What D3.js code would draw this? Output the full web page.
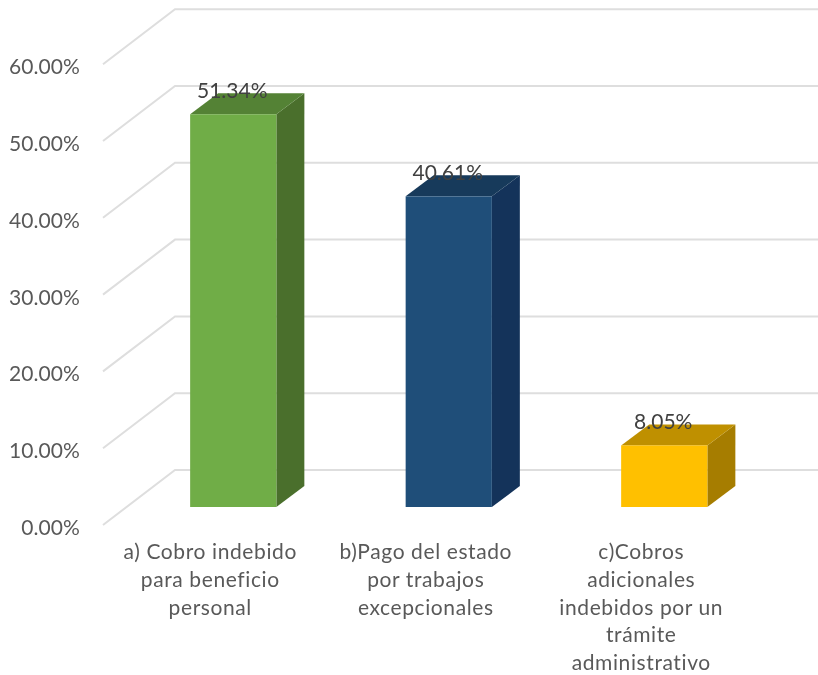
<!DOCTYPE html>
<html>
<head>
<meta charset="utf-8">
<script src="https://cdn.jsdelivr.net/npm/d3@7"></script>
<style>
  html, body { margin: 0; padding: 0; background: #fff; }
  text { font-family: Lato, "Open Sans", sans-serif; }
</style>
</head>
<body>
<svg id="chart"></svg>
<script>
const categories = [
  ["a) Cobro indebido", "para beneficio", "personal"],
  ["b)Pago del estado", "por trabajos", "excepcionales"],
  ["c)Cobros", "adicionales", "indebidos por un", "trámite", "administrativo"],
];
const values = [51.34, 40.61, 8.05];
const valueLabels = ["51.34%", "40.61%", "8.05%"];
const yTicks = [0, 10, 20, 30, 40, 50, 60];

const FRONT_COLORS = ["#70ad47", "#1f4e79", "#ffc000"];
const TOP_COLORS = ["#548235", "#173a5b", "#bf9000"];
const SIDE_COLORS = ["#4a6f2c", "#14335a", "#a67d00"];

const TOTAL_WIDTH = 818;
const TOTAL_HEIGHT = 675;

// depth of the 3d box, and of the floor
const BAR_DX = 28;
const BAR_DY = -21;
const FLOOR_DX = 72;
const FLOOR_DY = -55;

const WALL_LEFT = 175;
const WALL_RIGHT = 818;
const FLOOR_FRONT_Y = 525;
const BAR_FRONT_Y = 507;

const yScale = d3.scaleLinear().domain([0, 60]).range([FLOOR_FRONT_Y, FLOOR_FRONT_Y - 60 * 7.68]);
const barY = d3.scaleLinear().domain([0, 60]).range([BAR_FRONT_Y, BAR_FRONT_Y - 60 * 7.65]);
const xScale = d3.scaleBand().domain(d3.range(categories.length)).range([125.5, 772]).paddingInner(0.6).paddingOuter(0.3);

const svg = d3.select("#chart")
  .attr("width", TOTAL_WIDTH)
  .attr("height", TOTAL_HEIGHT)
  .style("display", "block")
  .style("filter", "blur(0.4px)");

// gridlines: floor/side edge then back wall
svg.append("g")
  .selectAll("polyline")
  .data(yTicks)
  .join("polyline")
  .attr("fill", "none")
  .attr("stroke", "#dedede")
  .attr("stroke-width", 2)
  .attr("points", (d) => {
    const y = yScale(d);
    return `${WALL_LEFT - FLOOR_DX},${y} ${WALL_LEFT},${y + FLOOR_DY} ${WALL_RIGHT},${y + FLOOR_DY}`;
  });

const yAxis = d3.axisLeft(yScale).tickValues(yTicks).tickSize(0).tickPadding(0).tickFormat((d) => d3.format(".2f")(d) + "%");
const yG = svg.append("g").attr("transform", "translate(80,2)").call(yAxis);
yG.select(".domain").remove();
yG.attr("font-family", null).attr("font-size", null);
yG.selectAll("text")
  .style("font-size", "21px")
  .style("letter-spacing", "0.1px")
  .attr("dy", "0.36em")
  .attr("fill", "#595959");

const bars = svg.append("g").selectAll("g").data(values).join("g");

// side face
bars.append("path")
  .attr("fill", (d, i) => SIDE_COLORS[i])
  .attr("d", (d, i) => {
    const x = xScale(i) + xScale.bandwidth();
    const y0 = barY(0);
    const y1 = barY(d);
    return `M${x},${y0}L${x + BAR_DX},${y0 + BAR_DY}L${x + BAR_DX},${y1 + BAR_DY}L${x},${y1}Z`;
  });

// top face
bars.append("path")
  .attr("fill", (d, i) => TOP_COLORS[i])
  .attr("d", (d, i) => {
    const x = xScale(i);
    const w = xScale.bandwidth();
    const y = barY(d);
    return `M${x},${y}L${x + BAR_DX},${y + BAR_DY}L${x + w + BAR_DX},${y + BAR_DY}L${x + w},${y}Z`;
  });

// front face
bars.append("rect")
  .attr("fill", (d, i) => FRONT_COLORS[i])
  .attr("x", (d, i) => xScale(i))
  .attr("y", (d) => barY(d))
  .attr("width", xScale.bandwidth())
  .attr("height", (d) => barY(0) - barY(d));

// value labels
bars.append("text")
  .attr("x", (d, i) => xScale(i) + xScale.bandwidth() / 2 - 1)
  .attr("y", (d) => barY(d) - 16)
  .attr("text-anchor", "middle")
  .attr("fill", "#404040")
  .style("font-size", "21px")
  .text((d, i) => valueLabels[i]);

// category labels sit left of their bars in the reference
svg.append("g")
  .selectAll("text")
  .data(categories)
  .join("text")
  .attr("text-anchor", "middle")
  .attr("fill", "#595959")
  .style("font-size", "21px")
  .style("letter-spacing", "0.6px")
  .attr("transform", (d, i) => `translate(${xScale(i) + xScale.bandwidth() / 2 - 23},559)`)
  .selectAll("tspan")
  .data((d) => d)
  .join("tspan")
  .attr("x", 0)
  .attr("y", (d, i) => i * 27.8)
  .text((d) => d);
</script>
</body>
</html>
